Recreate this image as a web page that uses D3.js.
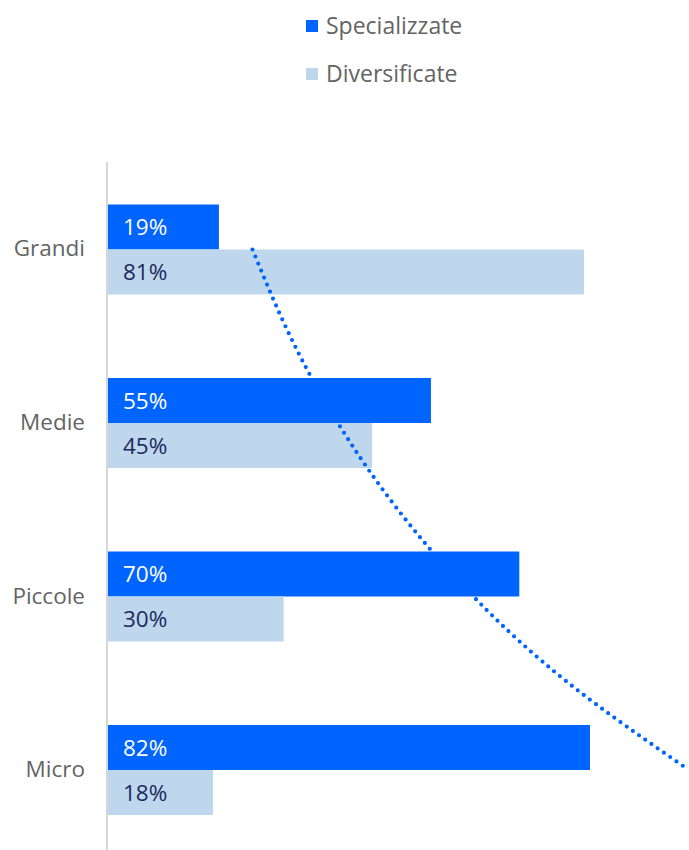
<!DOCTYPE html>
<html>
<head>
<meta charset="utf-8">
<script src="https://cdn.jsdelivr.net/npm/d3@7"></script>
<style>
  html, body { margin: 0; padding: 0; background: #fff; }
  svg { display: block; font-family: "Open Sans", Lato, sans-serif; }
</style>
</head>
<body>
<svg id="chart" width="689" height="850"></svg>
<script>
const categories = ["Grandi", "Medie", "Piccole", "Micro"];
const seriesNames = ["Specializzate", "Diversificate"];
const specializzate = [19, 55, 70, 82];
const diversificate = [81, 45, 30, 18];
// dotted trend line: category position (index) and value (%)
const trendPos = [0, 0.5, 1, 1.5, 2, 2.5, 3];
const trendVal = [24.7, 31.1, 39.2, 49.4, 62.2, 78.4, 98.8];

const colors = { Specializzate: "#0064FF", Diversificate: "#BFD7ED" };
const labelColors = { Specializzate: "#FFFFFF", Diversificate: "#1B2A5E" };

const svg = d3.select("#chart");
const x = d3.scaleLinear().domain([0, 100]).range([107, 696]);
const y = d3.scalePoint().domain(categories).range([249.5, 770]);
const yIdx = d3.scaleLinear().domain([0, 3]).range([249.5, 770]);
const barH = 45;

// legend
const legend = svg.append("g");
seriesNames.forEach((s, i) => {
  const g = legend.append("g").attr("transform", `translate(306, ${20 + i * 48})`);
  g.append("rect").attr("width", 12).attr("height", 12).attr("fill", colors[s]);
  g.append("text").attr("x", 20).attr("y", 6).attr("dy", "0.36em")
    .attr("font-size", 23).attr("fill", "#646464").text(s);
});

// bars
const data = [];
categories.forEach((c, i) => {
  data.push({ cat: c, s: "Specializzate", v: specializzate[i], off: -barH });
  data.push({ cat: c, s: "Diversificate", v: diversificate[i], off: 0 });
});

svg.append("g").selectAll("rect").data(data).join("rect")
  .attr("x", x(0))
  .attr("y", d => y(d.cat) + d.off)
  .attr("width", d => x(d.v) - x(0))
  .attr("height", barH)
  .attr("fill", d => colors[d.s]);

// trend line (dotted)
const line = d3.line()
  .x(d => x(d[1]))
  .y(d => yIdx(d[0]))
  .curve(d3.curveNatural);
svg.append("path")
  .datum(trendPos.map((p, i) => [p, trendVal[i]]))
  .attr("d", line)
  .attr("fill", "none")
  .attr("stroke", "#0064FF")
  .attr("stroke-width", 4.2)
  .attr("stroke-linecap", "round")
  .attr("stroke-dasharray", "0,7.6");

// value labels
svg.append("g").selectAll("text").data(data).join("text")
  .attr("x", x(0) + 16)
  .attr("y", d => y(d.cat) + d.off + barH / 2)
  .attr("dy", "0.36em")
  .attr("font-size", 22.5)
  .attr("fill", d => labelColors[d.s])
  .text(d => d.v + "%");

// y axis
const yAxis = d3.axisLeft(d3.scaleBand().domain(categories).range([162, 857]))
  .tickSize(0).tickPadding(22);
const ga = svg.append("g").attr("transform", `translate(${x(0)},0)`).call(yAxis);
ga.select(".domain").attr("stroke", "#D6D6D6").attr("stroke-width", 2)
  .attr("d", "M0,162V850");
ga.selectAll("text").attr("font-size", 22.5).attr("fill", "#646464")
  .attr("font-family", "\"Open Sans\", Lato, sans-serif");
</script>
</body>
</html>
